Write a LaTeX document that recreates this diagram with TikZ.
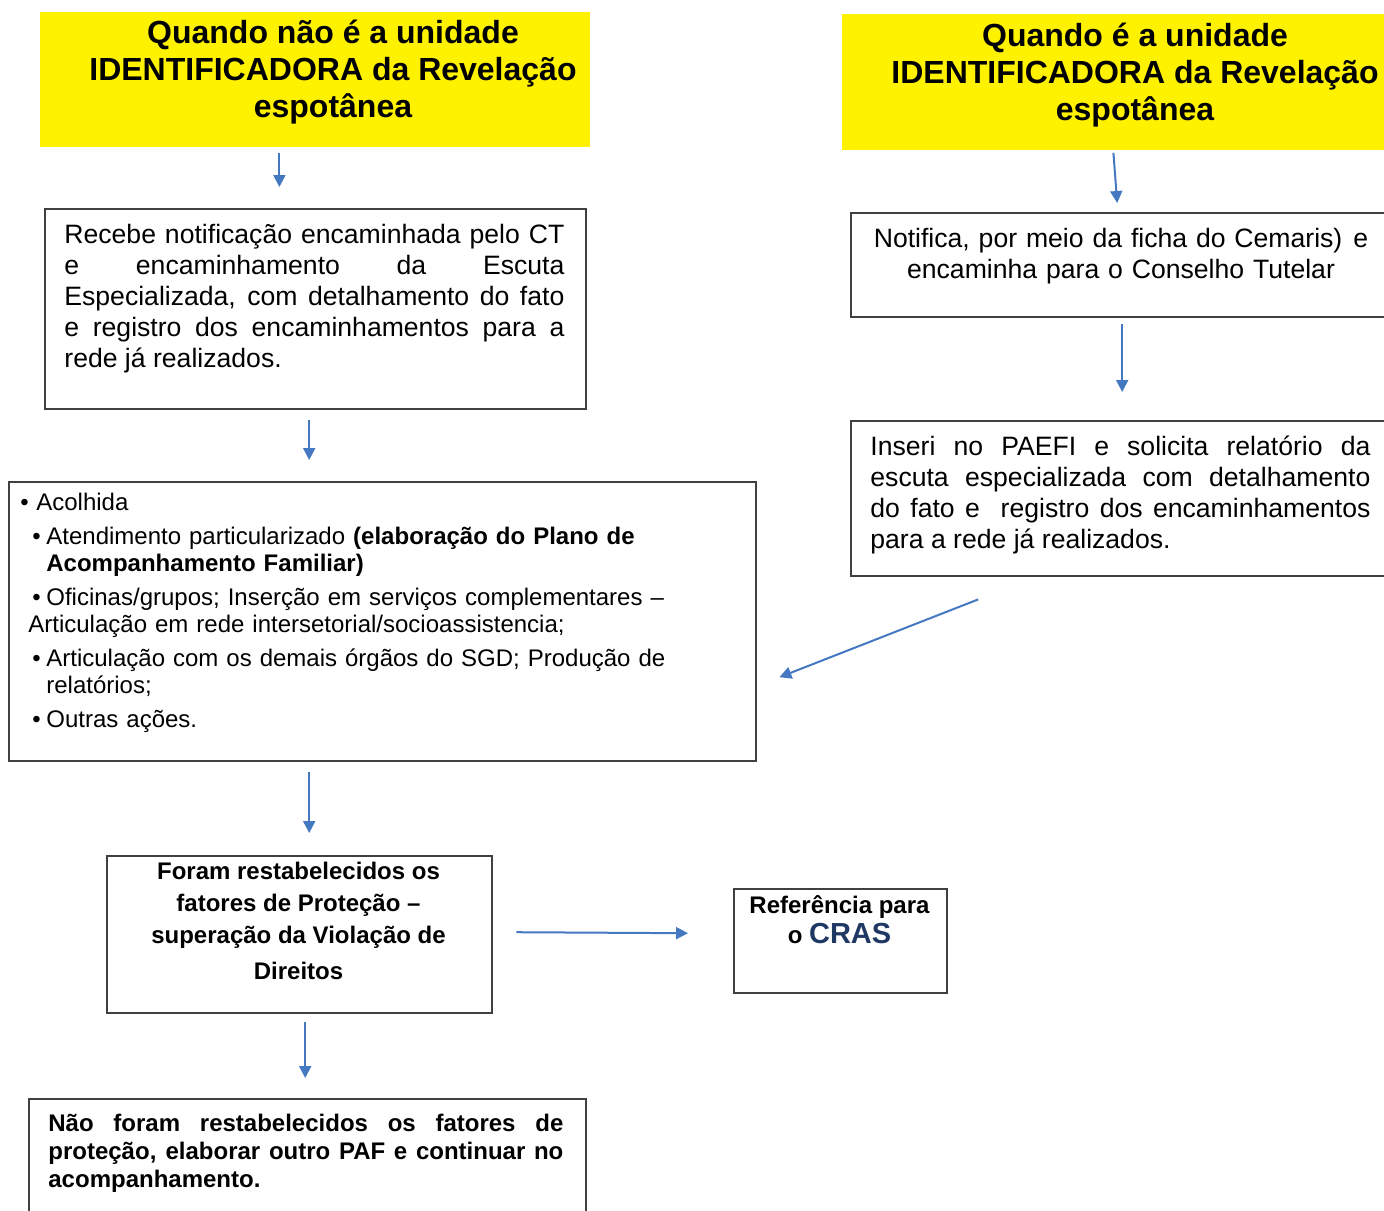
\documentclass[tikz,border=0pt]{standalone}
\usepackage{fontspec}
\setmainfont{Liberation Sans}
\usetikzlibrary{arrows.meta, calc, positioning}

\definecolor{arrowblue}{HTML}{4478C0}
\definecolor{crasblue}{HTML}{1F3864}
\definecolor{boxgray}{HTML}{404040}

\tolerance=9999
\hyphenpenalty=10000

\tikzset{
  titlebox/.style={fill=yellow, anchor=north west, inner sep=0pt},
  flowbox/.style={draw=boxgray, line width=1.2pt, anchor=north west, inner sep=0pt},
  titletext/.style={anchor=north, align=center, inner sep=0pt,
    font=\bfseries\fontsize{16}{18.5}\selectfont},
  bodytext/.style={anchor=north west, align=justify, inner sep=0pt, text width=250pt,
    font=\fontsize{13.3}{15.5}\selectfont},
  listtext/.style={anchor=north west, align=left, inner sep=0pt, text width=370pt,
    font=\fontsize{12}{13.5}\selectfont},
  boldtext/.style={anchor=north, align=center, inner sep=0pt,
    font=\bfseries\fontsize{12}{16}\selectfont},
  arr/.style={arrowblue, line width=1pt, -{Triangle[length=6pt,width=6pt]}},
}

\begin{document}
\begin{tikzpicture}[x=0.5pt, y=-0.5pt]
        \useasboundingbox (0,0) rectangle (1384,1210);

        % headings
        \node[titlebox, minimum width=275pt, minimum height=67.5pt] (t1) at (40,12) {};
        \node[titlebox, minimum width=274pt, minimum height=68pt]   (t2) at (842,14) {};
        \node[titletext] (q1) at (333,20)  {Quando não é a unidade\\IDENTIFICADORA da Revelação\\espotânea};
        \node[titletext] (q2) at (1135,23) {Quando é a unidade\\IDENTIFICADORA da Revelação\\espotânea};

        % left column
        \node[flowbox, minimum width=270.5pt, minimum height=100pt] (bA) at (44,208) {};
        \node[bodytext] (xA) at (64,224) {Recebe notificação encaminhada pelo CT\linebreak
            e encaminhamento da Escuta\linebreak
            Especializada, com detalhamento do fato\linebreak
            e registro dos encaminhamentos para a\linebreak
            rede já realizados.};

        % right column
        \node[flowbox, minimum width=270pt, minimum height=52pt] (bB) at (850,212) {};
        \node[bodytext, anchor=north, align=center, text width=266pt] (xB) at (1121,228)
            {Notifica, por meio da ficha do Cemaris)\hspace{5.5pt}e\\encaminha para o Conselho Tutelar};

        \node[flowbox, minimum width=270pt, minimum height=77.5pt] (bC) at (850,420) {};
        \node[bodytext] (xC) at (870,436) {Inseri no PAEFI e solicita relatório da\linebreak
            escuta especializada com detalhamento\linebreak
            do fato e\ \ registro dos encaminhamentos\linebreak
            para a rede já realizados.};

        % actions
        \node[flowbox, minimum width=373.5pt, minimum height=139.5pt] (bD) at (8,481) {};
        \node[listtext] (xD) at (8,493) {%
            \hspace*{6pt}\makebox[8pt][l]{\textbullet}Acolhida\\[3.5pt]
            \hspace*{12pt}\makebox[7pt][l]{\textbullet}Atendimento particularizado \textbf{(elaboração do Plano de}\\
            \hspace*{19pt}\textbf{Acompanhamento Familiar)}\\[3.5pt]
            \hspace*{12pt}\makebox[7pt][l]{\textbullet}Oficinas/grupos; Inserção em serviços complementares –\\
            \hspace*{10pt}Articulação em rede intersetorial/socioassistencia;\\[3.5pt]
            \hspace*{12pt}\makebox[7pt][l]{\textbullet}Articulação com os demais órgãos do SGD; Produção de\\
            \hspace*{19pt}relatórios;\\[3.5pt]
            \hspace*{12pt}\makebox[7pt][l]{\textbullet}Outras ações.};

        % outcomes
        \node[flowbox, minimum width=192.5pt, minimum height=78.5pt] (bE) at (106,855) {};
        \node[boldtext] (xE) at (298.5,862) {Foram restabelecidos os\\fatores de Proteção –\\superação da Violação de\\[2pt]Direitos};

        \node[flowbox, minimum width=106.5pt, minimum height=52pt] (bF) at (733,888) {};
        \node[boldtext, font=\bfseries\fontsize{12}{15}\selectfont] (xF) at (839.5,895)
            {Referência para\\o {\color{crasblue}\fontsize{14.5}{15}\selectfont CRAS}};

        \node[flowbox, minimum width=278.5pt, minimum height=70pt] (bG) at (28,1098) {};
        \node[bodytext, text width=257.5pt, font=\bfseries\fontsize{12}{14}\selectfont] (xG) at (48,1114)
            {Não foram restabelecidos os fatores de\linebreak
            proteção, elaborar outro PAF e continuar no\linebreak
            acompanhamento.};

        \path[arr]
            ($(t1.south)+(-36,5)$)             edge ($(t1.south |- bA.north)+(-36,-21)$)
            ($(t2.south)+(-3,2)$)              edge ($(bB.north)+(-4,-9)$)
            ($(bB.south)+(1,6)$)               edge ($(bC.north)+(1,-28)$)
            ($(bA.south)+(-6.5,10)$)           edge ($(bA.south |- bD.north)+(-6.5,-21)$)
            ($(bC.south)+(-143,22)$)           edge ($(bD.east)+(22,55.5)$)
            ($(bE.north |- bD.south)+(9.5,10)$) edge ($(bE.north)+(9.5,-22)$)
            ($(bE.east)+(23,-2.5)$)            edge ($(bF.west)+(-45,-8)$)
            ($(bE.south)+(5.5,8)$)             edge ($(bG.north -| bE.south)+(5.5,-20)$)
            ;
\end{tikzpicture}
\end{document}
